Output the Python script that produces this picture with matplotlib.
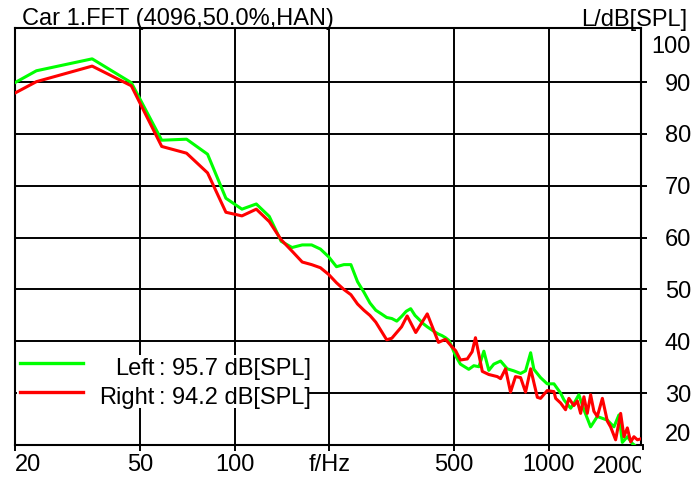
import matplotlib.pyplot as plt
from matplotlib.patches import Rectangle
from matplotlib.lines import Line2D
from matplotlib.transforms import Bbox, TransformedBbox, blended_transform_factory

plt.rcParams['font.family'] = ['Liberation Sans', 'DejaVu Sans']
plt.rcParams['font.size'] = 17

# Spectrum of the left channel (Hz, dB[SPL])
left_freq = [11.7, 23.4, 35.2, 46.9, 58.6, 70.3, 82.0, 93.8, 105.5, 117.2,
             128.9, 140.6, 152.3, 164.1, 175.8, 187.5, 199.2, 210.9, 222.7, 234.4,
             246.1, 257.8, 269.5, 281.3, 293.0, 304.7, 316.4, 328.1, 339.8, 351.6,
             363.3, 375.0, 386.7, 398.4, 410.2, 421.9, 433.6, 445.3, 457.0, 468.8,
             480.5, 492.2, 505, 523, 556, 577, 599, 621, 644, 668,
             702, 737, 774, 813, 843, 875, 896, 941, 988, 1038,
             1090, 1117, 1173, 1201, 1246, 1293, 1358, 1426, 1535, 1611,
             1671, 1713, 1777, 1844, 1913, 1990]
left_level = [82.1, 92.2, 94.5, 89.9, 78.8, 79.0, 76.1, 67.6, 65.5, 66.5,
              64.1, 59.3, 58.1, 58.6, 58.6, 57.8, 56.3, 54.4, 54.8, 54.8,
              51.5, 49.5, 47.4, 46.0, 45.3, 44.6, 44.4, 43.9, 44.8, 45.8,
              46.3, 45.0, 44.2, 43.4, 42.8, 42.3, 41.8, 41.4, 41.1, 40.7,
              40.2, 38.8, 37.2, 35.6, 34.6, 35.3, 35.1, 38.1, 34.4, 35.6,
              36.2, 34.7, 34.3, 33.8, 34.3, 37.8, 34.6, 33.0, 31.8, 31.8,
              30.0, 28.7, 27.1, 28.0, 29.7, 26.8, 23.5, 25.5, 24.8, 23.5,
              25.8, 20.5, 21.6, 20.3, 19.5, 19.0]

# Spectrum of the right channel
right_freq = [11.7, 23.4, 35.2, 46.9, 58.6, 70.3, 82.0, 93.8, 105.5, 117.2,
              128.9, 140.6, 152.3, 164.1, 175.8, 187.5, 199.2, 210.9, 222.7, 234.4,
              246.1, 257.8, 269.5, 281.3, 304.7, 316.4, 339.8, 354, 377, 410.2,
              445.3, 468.8, 492.2, 505, 523, 550, 570, 584, 614, 644,
              685, 702, 728, 755, 783, 813, 843, 875, 919, 941,
              988, 1038, 1051, 1090, 1130, 1158, 1201, 1232, 1262, 1293,
              1325, 1358, 1391, 1426, 1480, 1535, 1572, 1631, 1692, 1734,
              1777, 1821, 1865, 1913, 1990]
right_level = [80.4, 90.1, 93.1, 89.3, 77.6, 76.3, 72.5, 64.9, 64.2, 65.5,
               63.1, 59.6, 57.4, 55.3, 54.8, 54.2, 52.9, 51.3, 50.0, 49.0,
               47.2, 46.0, 45.0, 43.7, 40.3, 40.6, 42.8, 44.9, 41.7, 45.3,
               39.8, 40.4, 38.9, 38.2, 36.4, 36.6, 38.0, 40.7, 34.2, 33.6,
               33.2, 32.8, 34.7, 30.2, 33.2, 33.0, 30.2, 34.7, 29.2, 29.0,
               30.5, 30.3, 29.0, 28.1, 26.8, 29.0, 27.6, 28.5, 26.1, 29.3,
               26.1, 29.7, 26.5, 25.5, 29.0, 24.6, 23.5, 21.0, 26.1, 21.6,
               23.3, 20.6, 21.6, 21.0, 21.3]

x_ticks = [20, 50, 100, 200, 500, 1000]
x_labels = ['20', '50', '100', 'f/Hz', '500', '1000']
y_ticks = [30, 40, 50, 60, 70, 80, 90]
legend_names = ['Left', 'Right']
legend_values = ['95.7 dB[SPL]', '94.2 dB[SPL]']

W, H = 695, 480
fig = plt.figure(figsize=(W / 100, H / 100), dpi=100)
ax = fig.add_axes([15 / W, 35 / H, 625.7 / W, 417 / H])

ax.plot(left_freq, left_level, color='#00ff00', lw=2.2, zorder=3)
ax.plot(right_freq, right_level, color='#ff0000', lw=2.2, zorder=3)

ax.set_xscale('log')
ax.set_xlim(20, 1960)
ax.set_ylim(20, 100.45)
ax.set_xticks(x_ticks)
ax.set_xticklabels(x_labels)
ax.xaxis.set_minor_locator(plt.NullLocator())
ax.set_yticks(y_ticks)
ax.yaxis.tick_right()
ax.grid(True, color='black', lw=1.4)
for s in ax.spines.values():
    s.set_linewidth(1.5)
ax.tick_params(axis='x', direction='out', length=4.3, width=1.4, pad=2.5)
ax.tick_params(axis='y', direction='out', length=4.3, width=1.4, pad=31.9)
for t in ax.yaxis.get_major_ticks():
    t.label2.set_horizontalalignment('right')
ax.get_xticklabels()[0].set_horizontalalignment('left')

# extra labels shifted inside like the original software does
ytr = blended_transform_factory(ax.transAxes, ax.transData)
ax.text(1.0804, 97.3, '100', transform=ytr, ha='right', va='center_baseline')
ax.text(1.0804, 22.4, '20', transform=ytr, ha='right', va='center_baseline')
clip2000 = TransformedBbox(Bbox([[0, 0], [641 / W, 1]]), fig.transFigure)
fig.text(592.7 / W, 6.7 / H, '2000', ha='left', va='baseline',
         clip_on=True, clip_box=clip2000)
ax.add_artist(Line2D([2000, 2000], [0, -0.009], transform=ax.get_xaxis_transform(),
                     color='black', lw=1.4, clip_on=False))

# legend box
box = Rectangle((0.003, 0.0887), 0.467, 0.127, transform=ax.transAxes,
                facecolor='white', edgecolor='none', zorder=4)
ax.add_patch(box)
clipbox = TransformedBbox(Bbox([[0.003, 0.0887], [0.4699, 0.2157]]), ax.transAxes)
for i, (name, val, col) in enumerate(zip(legend_names, legend_values, ['#00ff00', '#ff0000'])):
    ly = 0.1966 - i * 0.0695
    by = 0.1679 - i * 0.0696
    ax.add_artist(Line2D([0.008, 0.1087], [ly, ly], transform=ax.transAxes,
                         color=col, lw=2.4, zorder=5))
    ax.text(0.2237, by, name, transform=ax.transAxes, ha='right', va='baseline',
            zorder=5, clip_on=True, clip_box=clipbox)
    ax.text(0.235, by, ':', transform=ax.transAxes, ha='center', va='baseline',
            zorder=5, clip_on=True, clip_box=clipbox)
    ax.text(0.2509, by, val, transform=ax.transAxes, ha='left', va='baseline',
            zorder=5, clip_on=True, clip_box=clipbox)

fig.text(22 / W, (H - 25) / H, 'Car 1.FFT (4096,50.0%,HAN)', ha='left', va='baseline')
fig.text(687 / W, (H - 26) / H, 'L/dB[SPL]', ha='right', va='baseline')

fig.savefig('out.png', dpi=100, facecolor='white')
